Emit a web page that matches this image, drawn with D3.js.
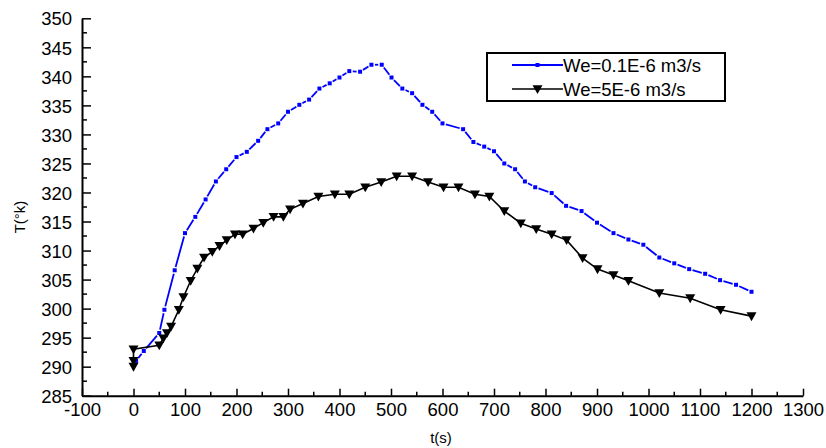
<!DOCTYPE html>
<html>
<head>
<meta charset="utf-8">
<script src="https://cdn.jsdelivr.net/npm/d3@7"></script>
<style>
  body { margin: 0; background: #fff; }
  text { font-family: "Liberation Sans", Arial, sans-serif; fill: #000; }
</style>
</head>
<body>
<div id="chart"></div>
<script>
// data
const blueT = [5, 20, 50, 60, 80, 100, 120, 140, 160, 180, 200, 220, 242, 260, 281, 300, 322, 341, 361, 381, 400, 419, 440, 462, 482, 501, 522, 541, 561, 580, 600, 640, 660, 681, 700, 720, 741, 760, 780, 812, 840, 870, 900, 932, 961, 990, 1021, 1050, 1079, 1110, 1139, 1170, 1200];
const blueV = [291, 292.7, 295.8, 299.8, 306.6, 313, 315.8, 318.8, 321.9, 324, 326.1, 327, 328.9, 330.9, 331.9, 333.9, 335.1, 336, 337.9, 338.8, 339.8, 340.9, 340.8, 342, 342, 339.8, 337.9, 337.1, 335.1, 333.9, 331.9, 330.9, 328.7, 327.9, 327.1, 325, 324, 321.9, 320.9, 319.9, 317.7, 316.8, 314.8, 313, 311.9, 311, 308.8, 307.8, 306.8, 306, 304.9, 304.1, 302.9];

const blackT = [0, 0, 0, 50, 58, 65, 73, 88, 97, 111, 124, 137, 153, 167, 181, 197, 212, 233, 252, 272, 291, 304, 329, 359, 391, 419, 450, 481, 511, 541, 572, 602, 631, 663, 691, 720, 752, 782, 812, 841, 872, 901, 932, 961, 1021, 1081, 1140, 1200];
const blackV = [290, 291, 293, 293.7, 294.9, 295.8, 296.9, 299.8, 302, 304.8, 306.9, 308.8, 309.8, 310.8, 311.8, 312.8, 312.8, 313.8, 314.8, 315.8, 315.8, 317.1, 318.1, 319.3, 319.7, 319.7, 320.9, 321.8, 322.8, 322.8, 321.8, 320.9, 320.9, 319.7, 319.3, 316.8, 314.7, 313.7, 312.8, 311.8, 308.7, 306.8, 305.8, 304.8, 302.7, 301.8, 299.8, 298.7];

const xTicks = d3.range(-100, 1301, 100);
const yTicks = d3.range(285, 351, 5);
const legendLabels = ["We=0.1E-6 m3/s", "We=5E-6 m3/s"];

const width = 826, height = 448;
const svg = d3.select("#chart").append("svg")
    .attr("width", width)
    .attr("height", height);

const x = d3.scaleLinear().domain([-100, 1300]).range([82, 803]);
const y = d3.scaleLinear().domain([285, 350]).range([395.7, 18.3]);

// minor ticks
svg.append("g").selectAll("line")
    .data(d3.range(-50, 1300, 100))
    .enter().append("line")
    .attr("x1", d => x(d)).attr("x2", d => x(d))
    .attr("y1", y(285)).attr("y2", y(285) - 4)
    .attr("stroke", "#000").attr("stroke-width", 1.5);
svg.append("g").selectAll("line")
    .data(d3.range(287.5, 350, 5))
    .enter().append("line")
    .attr("y1", d => y(d)).attr("y2", d => y(d))
    .attr("x1", x(-100)).attr("x2", x(-100) + 5)
    .attr("stroke", "#000").attr("stroke-width", 1.5);

// axes
const xAxis = svg.append("g")
    .attr("transform", `translate(0,${y(285)})`)
    .call(d3.axisBottom(x).tickValues(xTicks).tickSizeInner(-7).tickSizeOuter(0).tickPadding(7).tickFormat(d => String(d)));
const yAxis = svg.append("g")
    .attr("transform", `translate(${x(-100)},0)`)
    .call(d3.axisLeft(y).tickValues(yTicks).tickSizeInner(-9).tickSizeOuter(0).tickPadding(10).tickFormat(d => String(d)));

[xAxis, yAxis].forEach(a => {
    a.select(".domain").attr("stroke", "#000").attr("stroke-width", 2);
    a.selectAll(".tick line").attr("stroke", "#000").attr("stroke-width", 1.5);
    a.selectAll(".tick text")
        .style("font-family", '"Liberation Sans", Arial, sans-serif')
        .style("font-size", "18.5px")
        .attr("fill", "#000");
});
yAxis.selectAll(".tick text").attr("dy", "0.36em");

// axis titles
svg.append("text")
    .attr("x", 441).attr("y", 443)
    .attr("text-anchor", "middle")
    .style("font-size", "15px")
    .text("t(s)");
svg.append("text")
    .attr("transform", "translate(25,217) rotate(-90)")
    .attr("text-anchor", "middle")
    .style("font-size", "15px")
    .text("T(°k)");

// blue series: segments with a small gap around each symbol
const bluePts = blueT.map((t, i) => [x(t), y(blueV[i])]);
const gap = 3.5;
const segs = [];
for (let i = 1; i < bluePts.length; i++) {
    const [x0, y0] = bluePts[i - 1], [x1, y1] = bluePts[i];
    const len = Math.hypot(x1 - x0, y1 - y0);
    if (len <= 2 * gap) continue;
    const ux = (x1 - x0) / len, uy = (y1 - y0) / len;
    segs.push([x0 + ux * gap, y0 + uy * gap, x1 - ux * gap, y1 - uy * gap]);
}
svg.append("g").selectAll("line")
    .data(segs)
    .enter().append("line")
    .attr("x1", d => d[0]).attr("y1", d => d[1])
    .attr("x2", d => d[2]).attr("y2", d => d[3])
    .attr("stroke", "#0000ff").attr("stroke-width", 1.8);
svg.append("g").selectAll("rect")
    .data(bluePts)
    .enter().append("rect")
    .attr("x", d => d[0] - 2).attr("y", d => d[1] - 2)
    .attr("width", 4).attr("height", 4)
    .attr("fill", "#0000ff");

// black series
const line = d3.line().x(d => x(d[0])).y(d => y(d[1]));
const blackPts = blackT.map((t, i) => [t, blackV[i]]);
svg.append("path")
    .datum(blackPts)
    .attr("d", line)
    .attr("fill", "none")
    .attr("stroke", "#000")
    .attr("stroke-width", 1.6);
const tri = "M-5,-3.8L5,-3.8L0,5Z";
svg.append("g").selectAll("path")
    .data(blackPts)
    .enter().append("path")
    .attr("transform", d => `translate(${x(d[0])},${y(d[1])})`)
    .attr("d", tri)
    .attr("fill", "#000");

// legend
const lg = svg.append("g");
lg.append("rect")
    .attr("x", 487).attr("y", 53)
    .attr("width", 238).attr("height", 48)
    .attr("fill", "#fff").attr("stroke", "#000").attr("stroke-width", 2);
const rows = [
    { y: 65, color: "#0000ff", w: 2 },
    { y: 89, color: "#000", w: 1.6 }
];
rows.forEach((r, i) => {
    lg.append("line")
        .attr("x1", 512).attr("x2", 563)
        .attr("y1", r.y).attr("y2", r.y)
        .attr("stroke", r.color).attr("stroke-width", r.w);
    if (i === 0) {
        lg.append("rect").attr("x", 535.5).attr("y", r.y - 2)
            .attr("width", 4).attr("height", 4).attr("fill", r.color);
    } else {
        lg.append("path").attr("d", tri)
            .attr("transform", `translate(537.5,${r.y})`).attr("fill", r.color);
    }
    lg.append("text")
        .attr("x", 563).attr("y", r.y)
        .attr("dy", "0.36em")
        .style("font-size", "18.5px")
        .text(legendLabels[i]);
});
</script>
</body>
</html>
